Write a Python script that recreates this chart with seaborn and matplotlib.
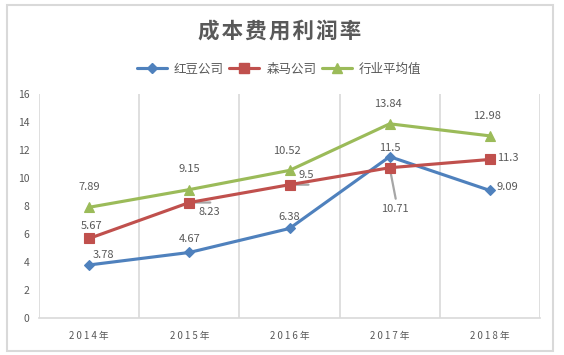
import matplotlib
matplotlib.use("Agg")
import matplotlib.pyplot as plt
import seaborn as sns
import pandas as pd
from matplotlib.lines import Line2D
from matplotlib.patches import Rectangle

# ---- data ----
years = ["2014年", "2015年", "2016年", "2017年", "2018年"]
hongdou = [3.78, 4.67, 6.38, 11.5, 9.09]
senma = [5.67, 8.23, 9.5, 10.71, 11.3]
industry = [7.89, 9.15, 10.52, 13.84, 12.98]
series_names = ["红豆公司", "森马公司", "行业平均值"]
title = "成本费用利润率"
yticks = [0, 2, 4, 6, 8, 10, 12, 14, 16]

# ---- style ----
sns.set_theme(style="white")
plt.rcParams["font.family"] = ["Noto Sans CJK SC", "DejaVu Sans"]
TXT = "#595959"
GRID = "#D9D9D9"
colors = ["#4F81BD", "#C0504D", "#9BBB59"]
markers = ["D", "s", "^"]
msizes = [5.5, 7.5, 7]

W, H = 564, 355
fig = plt.figure(figsize=(W / 100, H / 100), dpi=100)
ax = fig.add_axes([39 / W, (H - 318) / H, (540 - 39) / W, (318 - 93.5) / H])

df = pd.DataFrame({"year": years, series_names[0]: hongdou,
                   series_names[1]: senma, series_names[2]: industry})
x = list(range(len(years)))
for name, c, m, ms in zip(series_names, colors, markers, msizes):
    sns.lineplot(x=x, y=df[name], ax=ax, color=c, lw=2.25, marker=m,
                 markersize=ms, markeredgecolor=c, markeredgewidth=0.8,
                 sort=False, legend=False, zorder=3)

ax.set_xlim(-0.5, len(years) - 0.5)
ax.set_ylim(0, 16)
ax.set_yticks(yticks)
ax.set_yticklabels([str(v) for v in yticks])
ax.set_xticks(x)
ax.set_xticklabels(["\u2009".join(list(y)) for y in years])
ax.set_xticks([i - 0.5 for i in range(len(years) + 1)], minor=True)
ax.grid(False)
ax.xaxis.grid(True, which="minor", color=GRID, lw=1.2)
ax.tick_params(axis="both", which="both", length=0)
ax.tick_params(axis="y", labelsize=7.5, colors=TXT, pad=7)
ax.tick_params(axis="x", labelsize=7, colors=TXT, pad=9)
for s in ["top", "right", "left"]:
    ax.spines[s].set_visible(False)
ax.spines["bottom"].set_color(GRID)
ax.spines["bottom"].set_linewidth(1.2)
ax.set_xlabel("")
ax.set_ylabel("")

# ---- data labels (offsets in pixels) ----
lab_off = {
    0: [(14, 10, "center"), (0, 13.5, "center"), (0, 11.5, "center"), (0, 9, "center"), (7, 3.5, "left")],
    1: [(2, 12.5, "center"), (20, -9.5, "center"), (17, 9.7, "center"), (5, -41, "center"), (7, 1.5, "left")],
    2: [(0, 20, "center"), (0, 20.5, "center"), (-3, 19.4, "center"), (-2, 20, "center"), (-3, 20, "center")],
}
leaders = {(1, 1): (21, 0), (1, 2): (19, 0), (1, 3): (6, -31)}
vals = [hongdou, senma, industry]
for si, v in enumerate(vals):
    for i, val in enumerate(v):
        dx, dy, ha = lab_off[si][i]
        if (si, i) in leaders:
            lx, ly = leaders[(si, i)]
            ax.annotate("", xy=(i, val), xytext=(lx, ly), textcoords="offset pixels",
                        arrowprops=dict(arrowstyle="-", color="#A6A6A6", lw=1.6,
                                        shrinkA=0, shrinkB=0), zorder=2)
        ax.annotate(f"{val:g}", xy=(i, val), xytext=(dx, dy), textcoords="offset pixels",
                    ha=ha, va="center", fontsize=8, color=TXT, zorder=4)

# ---- title ----
fig.text(280 / W, 1 - 31 / H, "\u200a".join(list(title)), ha="center", va="center",
         fontsize=15.5, fontweight="bold", color=TXT)

# ---- legend ----
handles = [Line2D([0], [0], color=c, lw=2.25, marker=m, markersize=ms,
                  markeredgecolor=c) for c, m, ms in zip(colors, markers, msizes)]
fig.legend(handles, series_names, loc="center", bbox_to_anchor=(279 / W, 1 - 69 / H),
           ncol=3, frameon=False, fontsize=9, handlelength=2.4, handletextpad=0.6,
           columnspacing=0.4, labelcolor=TXT, borderaxespad=0)

# ---- outer frame ----
fig.add_artist(Rectangle((7 / W, 4 / H), (553 - 7) / W, (350 - 4) / H,
                         transform=fig.transFigure, fill=False, edgecolor=GRID, lw=1.5))

fig.savefig("out.png", dpi=100)
